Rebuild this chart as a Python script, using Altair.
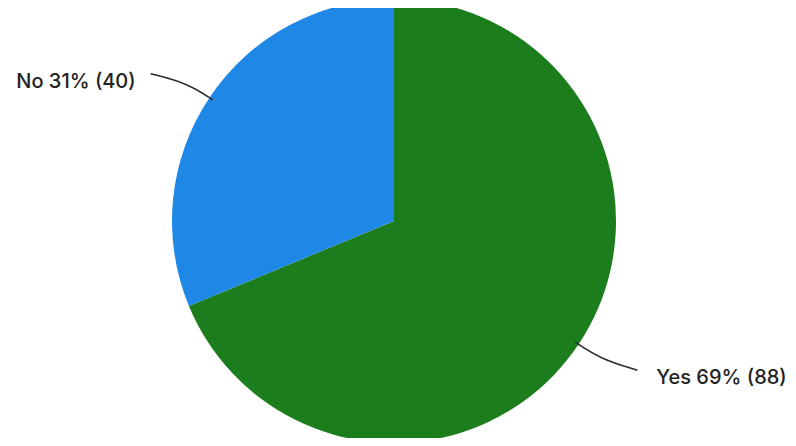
import math
import altair as alt
import pandas as pd

# ---- data ----
categories = ["Yes", "No"]
counts = [88, 40]
percents = [69, 31]
colors = ["#1b7d1b", "#1f88e6"]

# ---- layout constants ----
W, H = 780, 430
CX, CY = 386, 213     # pie centre in plot coords
R = 222               # pie radius

slices = pd.DataFrame({
    "cat": categories,
    "count": counts,
    "pct": percents,
    "ord": list(range(len(categories))),
})
slices["label"] = [f"{c} {p}% ({n})" for c, p, n in zip(categories, percents, counts)]

# leader lines and label anchors derived from the values
total = sum(counts)
rows, labels = [], []
cum = 0
for c, n, lab in zip(categories, counts, slices["label"]):
    mid = (cum + n / 2) / total * 2 * math.pi
    cum += n
    sx, sy = math.sin(mid), -math.cos(mid)
    side = 1 if sx >= 0 else -1
    ex, ey = CX + (R - 4) * sx, CY + (R - 4) * sy
    mx, my = ex + 30 * sx, ey + 30 * sy
    fx, fy = ex + 47 * sx + side * 23, ey + 47 * sy + (2 if side > 0 else 0)
    for i, (px, py) in enumerate([(ex, ey), (mx, my), (fx, fy)]):
        rows.append({"cat": c, "i": i, "px": px, "py": py})
    labels.append({"cat": c, "label": lab,
                   "tx": fx + (19 if side > 0 else -15), "ty": fy + 8,
                   "align": "left" if side > 0 else "right"})
lines = pd.DataFrame(rows)
labs = pd.DataFrame(labels)

xs = alt.Scale(domain=[0, W], range=[0, W])
ys = alt.Scale(domain=[0, H], range=[0, H])

pie = alt.Chart(slices).mark_arc(radius=R, stroke=None).encode(
    theta=alt.Theta("count:Q", stack=True),
    order=alt.Order("ord:Q"),
    color=alt.Color("cat:N", scale=alt.Scale(domain=categories, range=colors), legend=None),
    x=alt.value(CX),
    y=alt.value(CY),
)

leader = alt.Chart(lines).mark_line(interpolate="basis", color="#2b2b2b", strokeWidth=1.6).encode(
    x=alt.X("px:Q", scale=xs, axis=None),
    y=alt.Y("py:Q", scale=ys, axis=None),
    detail="cat:N",
    order="i:Q",
)

def text_layer(align):
    return alt.Chart(labs[labs["align"] == align]).mark_text(
        align=align, baseline="middle", font="Inter", fontSize=20, fontWeight=500, color="#222222"
    ).encode(
        x=alt.X("tx:Q", scale=xs, axis=None),
        y=alt.Y("ty:Q", scale=ys, axis=None),
        text="label:N",
    )

chart = alt.layer(pie, leader, text_layer("left"), text_layer("right")).properties(
    width=W, height=H,
    padding=0,
    autosize=alt.AutoSizeParams(type="none"),
    background="white",
).configure_view(stroke=None)

chart.save("out.html", embed_options={"renderer": "svg", "actions": False})
